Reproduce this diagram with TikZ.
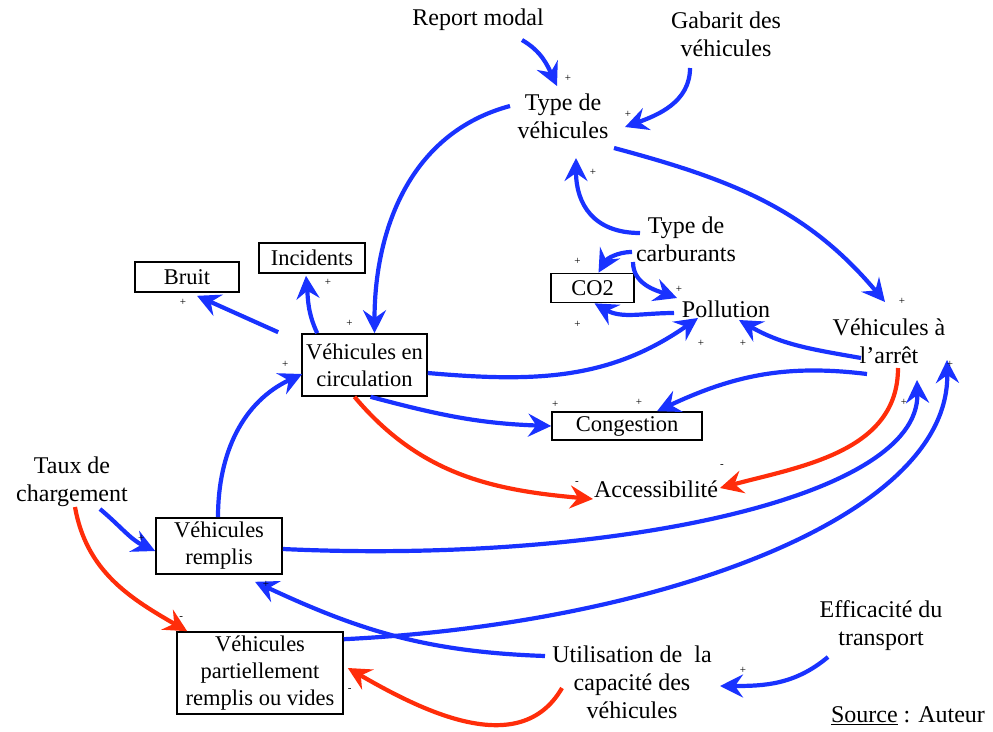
\documentclass[tikz,border=0pt]{standalone}
\usepackage{fontspec}
\setmainfont{Liberation Serif}
\usepackage{tikz}
\usetikzlibrary{arrows.meta}

\definecolor{lienbleu}{RGB}{25,50,255}
\definecolor{lienrouge}{RGB}{255,45,10}

\begin{document}
\begin{tikzpicture}[x=1pt, y=1pt,
    var/.style={align=center, inner sep=0pt, font=\fontsize{24}{28}\selectfont},
    box/.style={var, draw, line width=1.6pt, font=\fontsize{22.5}{27}\selectfont},
    sgn/.style={inner sep=0pt, text=black, font=\fontsize{11}{11}\selectfont},
    lienpos/.style={-{Stealth[length=23pt,width=23pt,inset=8pt]}, line width=4.2pt, color=lienbleu},
    lienneg/.style={lienpos, color=lienrouge}
]
    \useasboundingbox (0,0) rectangle (993,-731);

    \node[var] (report) at (478,-20) {Report modal};
    \node[var] (gabarit) at (726,-34) {Gabarit des\\véhicules};
    \node[var] (typeveh) at (563,-116) {Type de\\véhicules};
    \node[var] (typecarb) at (686,-239) {Type de\\carburants};
    \node[box, minimum width=83pt, minimum height=29pt] (co2) at (592.5,-288) {CO2};
    \node[var] (pollution) at (726,-309) {Pollution};
    \node[var] (arret) at (889,-341) {Véhicules à\\l’arrêt};
    \node[box, minimum width=104pt, minimum height=30pt] (bruit) at (187,-277) {Bruit};
    \node[box, minimum width=106pt, minimum height=30pt] (incidents) at (312,-258) {Incidents};
    \node[box, minimum width=125pt, minimum height=62pt] (circulation) at (364.5,-365) {Véhicules en\\circulation};
    \node[box, minimum width=150pt, minimum height=28pt] (congestion) at (627,-426) {Congestion};
    \node[var] (access) at (656,-489) {Accessibilité};
    \node[var] (taux) at (72,-482) {Taux de\\chargement};
    \node[box, minimum width=126pt, minimum height=56pt] (remplis) at (219,-546) {Véhicules\\remplis};
    \node[box, minimum width=166pt, minimum height=82pt] (partiel) at (260,-673) {Véhicules\\partiellement\\remplis ou vides};
    \node[var] (utilisation) at (632,-682) {Utilisation de\ \ la\\capacité des\\véhicules};
    \node[var] (efficacite) at (881,-626) {Efficacité du\\transport};
    \node[var] (source) at (908,-716) {\underline{Source} : Auteur};

    \draw[lienpos] ([shift={(44,-20)}]report.center) to[out=-30,in=115] ([shift={(-6,30)}]typeveh.center) node[sgn, shift={(11,8)}] (s1) {+};
    \draw[lienpos] ([shift={(-36,-34)}]gabarit.center) to[out=-90,in=20] ([shift={(62,-11)}]typeveh.center) node[sgn, shift={(3,13)}] (s2) {+};
    \draw[lienpos] ([shift={(-46,6)}]typecarb.center) to[out=180,in=-90,looseness=1.2] ([shift={(13,-42)}]typeveh.center) node[sgn, shift={(17,-14)}] (s3) {+};
    \draw[lienpos] ([shift={(-53,10)}]typeveh.center) to[out=195,in=90] ([xshift=10pt]circulation.north) node[sgn, shift={(-25,10)}] (s4) {+};
    \draw[lienpos] ([shift={(51,-32)}]typeveh.center) to[out=-15,in=130] ([shift={(-4,39)}]arret.center) node[sgn, shift={(17,1)}] (s5) {+};
    \draw[lienpos] ([shift={(-54,-13)}]typecarb.center) to[out=180,in=60] ([xshift=6pt]co2.north) node[sgn, shift={(-21,11)}] (s6) {+};
    \draw[lienpos] ([shift={(-53,-23)}]typecarb.center) to[out=-90,in=160] ([shift={(-49,11)}]pollution.center) node[sgn, shift={(2,9)}] (s7) {+};
    \draw[lienpos] ([shift={(-52,-4)}]pollution.center) to[out=180,in=-30] ([xshift=2pt]co2.south) node[sgn, shift={(-17,-21)}] (s8) {+};
    \draw[lienpos] ([yshift=-8pt]circulation.east) to[out=-5,in=215] ([shift={(-28,-9)}]pollution.center) node[sgn, shift={(3,-25)}] (s9) {+};
    \draw[lienpos] ([shift={(-28,-17)}]arret.center) to[out=170,in=-30] ([shift={(13,-11)}]pollution.center) node[sgn, shift={(4,-23)}] (s10) {+};
    \draw[lienpos] ([shift={(-22,-33)}]arret.center) to[out=173,in=25] ([xshift=30pt]congestion.north) node[sgn, shift={(-18,9)}] (s11) {+};
    \draw[lienpos] ([xshift=6pt]circulation.south) to[out=-15,in=178] (congestion.west) node[sgn, shift={(4,22)}] (s12) {+};
    \draw[lienneg] ([xshift=-10pt]circulation.south) to[out=-50,in=175] ([shift={(-63,-10)}]access.center) node[sgn, shift={(-16,16)}] (s13) {-};
    \draw[lienneg] ([shift={(9,-27)}]arret.center) to[out=-90,in=15] ([shift={(64,1)}]access.center) node[sgn, shift={(2,22)}] (s14) {-};
    \draw[lienpos] ([shift={(-23,1)}]circulation.north west) -- ([shift={(10,-3)}]bruit.south) node[sgn, shift={(-14,-7)}] (s15) {+};
    \draw[lienpos] ([xshift=16pt]circulation.north west) to[out=115,in=-85] ([shift={(-6,-2)}]incidents.south) node[sgn, shift={(22,-7)}] (s16) {+};
    \draw[lienpos] ([xshift=-1pt]remplis.north) to[out=90,in=205] ([shift={(1,-9)}]circulation.west) node[sgn, shift={(-17,10)}] (s17) {+};
    \draw[lienpos] ([shift={(28,-27)}]taux.center) to[out=-40,in=155] ([yshift=-5pt]remplis.west) node[sgn, shift={(-14,13)}] (s18) {+};
    \draw[lienneg] ([shift={(3,-25)}]taux.center) to[out=-80,in=150] ([xshift=11pt]partiel.north west) node[sgn, shift={(-6,13)}] (s19) {-};
    \draw[lienpos] ([yshift=-3pt]remplis.east) .. controls +(320,-15) and +(3,-120) .. ([shift={(28,-39)}]arret.center) node[sgn, shift={(-13,-22)}] (s20) {+};
    \draw[lienpos] ([yshift=-8pt]partiel.north east) .. controls +(307,15) and +(3,-160) .. ([shift={(58,-19)}]arret.center) node[sgn, shift={(3,-4)}] (s21) {+};
    \draw[lienpos] ([shift={(-87,26)}]utilisation.center) to[out=178,in=-25] ([shift={(36,-7)}]remplis.south) node[sgn, shift={(11,-3)}] (s22) {+};
    \draw[lienneg] ([shift={(-70,-6)}]utilisation.center) to[out=-120,in=-30] ([shift={(4,5)}]partiel.east) node[sgn, shift={(2,-22)}] (s23) {-};
    \draw[lienpos] ([shift={(-53,-31)}]efficacite.center) to[out=-140,in=0] ([shift={(88,-4)}]utilisation.center) node[sgn, shift={(23,16)}] (s24) {+};
\end{tikzpicture}
\end{document}
